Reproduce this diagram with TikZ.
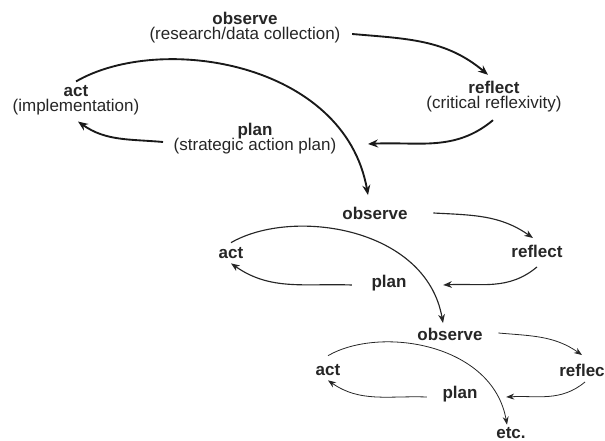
\documentclass[tikz,border=0pt]{standalone}
\usepackage{fontspec}
\setmainfont{Liberation Sans}
\usetikzlibrary{arrows.meta}
\usetikzlibrary{positioning}

\begin{document}
\begin{tikzpicture}[x=0.75pt,y=0.75pt,
every node/.style={text=black!85, font={\fontsize{12.75}{11.3}\selectfont\lineskiplimit=-10pt}},
stage/.style={align=center},
big/.style={black!90, line width=1.4pt, -{Stealth[length=7.5pt,width=6pt,inset=2.5pt]}},
mid/.style={black!85, line width=0.85pt, -{Stealth[length=6.5pt,width=5pt,inset=2pt]}},
small/.style={black!85, line width=0.6pt, -{Stealth[length=6pt,width=4.5pt,inset=2pt]}}]
\useasboundingbox (0,0) rectangle (605,441);

\node[stage] (obs1) at (245,413) {\textbf{observe}\\(research/data collection)};
\node[stage] (ref1) at (494,344) {\textbf{reflect}\\(critical reflexivity)};
\node[stage] (pla1) at (255,302) {\textbf{plan}\\(strategic action plan)};
\node[stage] (act1) at (76,341) {\textbf{act}\\(implementation)};

\node (obs2) at (375,228) {\textbf{observe}};
\node (ref2) at (537,190) {\textbf{reflect}};
\node (pla2) at (389,158) {\textbf{plan}};
\node (act2) at (231,188) {\textbf{act}};

\node (obs3) at (450,107) {\textbf{observe}};
\node (ref3) at (582,71) {\textbf{reflec}};
\node (pla3) at (460,47) {\textbf{plan}};
\node (act3) at (328,71) {\textbf{act}};
\node (etc) at (511,8) {\textbf{etc.}};

\draw[big] ([shift={(7,-6)}]obs1.east) to[out=-5,in=140] ([shift={(-6,2)}]ref1.north);
\draw[big] ([shift={(-1,-3)}]ref1.south) to[out=-140,in=3] ([shift={(27,-5)}]pla1.east);
\draw[big] ([shift={(-6,-3)}]pla1.west) to[out=175,in=-35] ([shift={(2,-2)}]act1.south);
\draw[big] ([shift={(0,-1)}]act1.north) to[out=30,in=100,out looseness=0.8,in looseness=1.1] ([shift={(-7,7)}]obs2.north);

\draw[mid] ([shift={(21,0)}]obs2.east) to[out=-3,in=145] ([shift={(-4,2)}]ref2.north);
\draw[mid] ([shift={(0,-5)}]ref2.south) to[out=-140,in=3] ([shift={(32,-2)}]pla2.east);
\draw[mid] ([shift={(-15,-2)}]pla2.west) to[out=178,in=-35] (act2.south);
\draw[mid] (act2.north) to[out=30,in=100,out looseness=0.8,in looseness=1.1] ([shift={(-7,0)}]obs3.north);

\draw[small] ([shift={(11,1)}]obs3.east) to[out=-5,in=145] ([shift={(0,4)}]ref3.north);
\draw[small] ([shift={(3,-1)}]ref3.south) to[out=-140,in=3] ([shift={(24,-3)}]pla3.east);
\draw[small] ([shift={(-11,-3)}]pla3.west) to[out=178,in=-35] (act3.south);
\draw[small] ([shift={(0,4)}]act3.north) to[out=30,in=100,out looseness=0.8,in looseness=1.1] ([shift={(-4,-2)}]etc.north);
\end{tikzpicture}
\end{document}
